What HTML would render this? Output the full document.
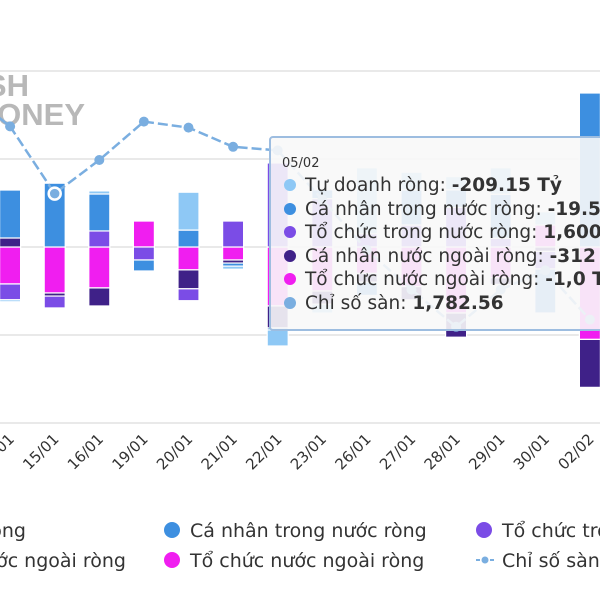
<!DOCTYPE html>
<html><head><meta charset="utf-8"><style>
html,body{margin:0;padding:0;background:#fff;width:600px;height:600px;overflow:hidden}
svg{display:block;font-family:"DejaVu Sans","Liberation Sans",sans-serif}
</style></head><body>
<svg id="chart" width="600" height="600" viewBox="0 0 600 600">
<g id="grid"></g>
<g fill="#b8b8b8" font-weight="bold" font-family="Liberation Sans, sans-serif">
<text x="29" y="96" text-anchor="end" font-size="31">CASH</text>
<text x="85" y="125" text-anchor="end" font-size="31">MONEY</text>
</g>
<g id="bars"></g>
<g id="line"></g>
<g id="xlabels"></g>
<g>
<rect x="270" y="137" width="345" height="193" rx="3" fill="rgba(248,248,248,0.9)" stroke="#9dbde0" stroke-width="2"/>
<text x="282" y="167" font-size="13" fill="#333">05/02</text>
<g font-size="18.5" fill="#333">
<circle cx="290" cy="185" r="6" fill="#8ec8f5"/><text x="305" y="191">Tự doanh ròng: <tspan font-weight="bold">-209.15 Tỷ</tspan></text>
<circle cx="290" cy="209" r="6" fill="#3d8fe0"/><text x="305" y="215">Cá nhân trong nước ròng: <tspan font-weight="bold">-19.5 Tỷ</tspan></text>
<circle cx="290" cy="232" r="6" fill="#7b4ce6"/><text x="305" y="238">Tổ chức trong nước ròng: <tspan font-weight="bold">1,600 Tỷ</tspan></text>
<circle cx="290" cy="256" r="6" fill="#3f2188"/><text x="305" y="262">Cá nhân nước ngoài ròng: <tspan font-weight="bold">-312 Tỷ</tspan></text>
<circle cx="290" cy="279" r="6" fill="#f01ef0"/><text x="305" y="285">Tổ chức nước ngoài ròng: <tspan font-weight="bold">-1,0 Tỷ</tspan></text>
<circle cx="290" cy="303" r="6" fill="#7aaee0"/><text x="305" y="309">Chỉ số sàn: <tspan font-weight="bold">1,782.56</tspan></text>
</g>
</g>
<g font-size="19" fill="#333">
<text x="26" y="537" text-anchor="end">Tự doanh ròng</text>
<circle cx="172" cy="530" r="8" fill="#3d8fe0"/><text x="190" y="537">Cá nhân trong nước ròng</text>
<circle cx="484" cy="530" r="8" fill="#7b4ce6"/><text x="502" y="537">Tổ chức trong nước ròng</text>
<text x="126" y="567" text-anchor="end">Cá nhân nước ngoài ròng</text>
<circle cx="172" cy="560" r="8" fill="#f01ef0"/><text x="190" y="567">Tổ chức nước ngoài ròng</text>
<line x1="476" y1="560" x2="494" y2="560" stroke="#7aaee0" stroke-width="2" stroke-dasharray="4,3"/><circle cx="485" cy="560" r="3.5" fill="#7aaee0"/>
<text x="502" y="567">Chỉ số sàn</text>
</g>
</svg>
<script>
const categories=["13/01","14/01","15/01","16/01","19/01","20/01","21/01","22/01","23/01","26/01","27/01","28/01","29/01","30/01","02/02"];
const tuDoanh=[0,-45,0,70,0,860,-70,-365,-200,1500,400,300,600,300,0];
const caNhanTN=[0,1090,1450,840,-250,385,-70,-45,200,-300,800,400,1000,-1000,3500];
const toChucTN=[0,-360,-270,365,-295,-270,590,1910,1100,300,500,900,200,-400,0];
const caNhanNN=[0,205,-70,-410,0,-430,-70,-500,-300,-200,-300,-550,-150,-100,-1090];
const toChucNN=[0,-840,-1045,-930,590,-520,-295,-1340,-1000,-600,-900,-1500,-700,500,-2100];
const chiSo=[1862,1833,1777,1805,1837,1832,1816,1813,1772,1730,1697,1666,1697,1713,1672];
const gridTicks=[-4000,-2000,0,2000,4000];
const NS="http://www.w3.org/2000/svg";
function xPos(i){return -34.5+i*44.6;}
function yBar(v){return 247-v*0.044;}
function yLine(v){return 70+(1880-v)*1.2;}
const g=document.getElementById('grid');
gridTicks.forEach(t=>{const l=document.createElementNS(NS,'line');
l.setAttribute('x1',0);l.setAttribute('x2',600);l.setAttribute('y1',yBar(t));l.setAttribute('y2',yBar(t));
l.setAttribute('stroke','#e2e2e2');l.setAttribute('stroke-width','1.5');


g.appendChild(l);});
const series=[[tuDoanh,'#8ec8f5','tu-doanh'],[caNhanTN,'#3d8fe0','ca-nhan-trong-nuoc'],[toChucTN,'#7b4ce6','to-chuc-trong-nuoc'],[caNhanNN,'#3f2188','ca-nhan-nuoc-ngoai'],[toChucNN,'#f01ef0','to-chuc-nuoc-ngoai']];
const bg=document.getElementById('bars');
categories.forEach((c,i)=>{let pos=0,neg=0;
for(let s=series.length-1;s>=0;s--){const v=series[s][0][i];if(!v)continue;
let y0,y1;if(v>0){y0=yBar(pos+v);y1=yBar(pos);pos+=v;}else{y0=yBar(neg);y1=yBar(neg+v);neg+=v;}
const r=document.createElementNS(NS,'rect');
r.setAttribute('x',xPos(i)-10.5);r.setAttribute('width',21);r.setAttribute('y',y0);r.setAttribute('height',Math.max(0,y1-y0));
r.setAttribute('fill',series[s][1]);r.setAttribute('stroke','#fff');r.setAttribute('stroke-width','1.2');


bg.appendChild(r);}});
const lg=document.getElementById('line');
const pts=chiSo.map((v,i)=>xPos(i)+','+yLine(v)).join(' ');
const pl=document.createElementNS(NS,'polyline');
pl.setAttribute('points',pts);pl.setAttribute('fill','none');pl.setAttribute('stroke','#7aaee0');pl.setAttribute('stroke-width','2.5');pl.setAttribute('stroke-dasharray','10,4');


lg.appendChild(pl);
chiSo.forEach((v,i)=>{const m=document.createElementNS(NS,'circle');
m.setAttribute('cx',xPos(i));m.setAttribute('cy',yLine(v));m.setAttribute('r',i==2?6:5);m.setAttribute('fill','#7aaee0');
if(i==2){m.setAttribute('stroke','#fff');m.setAttribute('stroke-width','2.5');}


lg.appendChild(m);});
const xl=document.getElementById('xlabels');
categories.forEach((c,i)=>{const x=xPos(i)+5,y=440;const t=document.createElementNS(NS,'text');
t.setAttribute('x',x);t.setAttribute('y',y);t.setAttribute('text-anchor','end');t.setAttribute('font-size','15');t.setAttribute('fill','#333');
t.setAttribute('transform','rotate(-45 '+x+' '+y+')');t.textContent=c;


xl.appendChild(t);});
</script>
</body></html>
